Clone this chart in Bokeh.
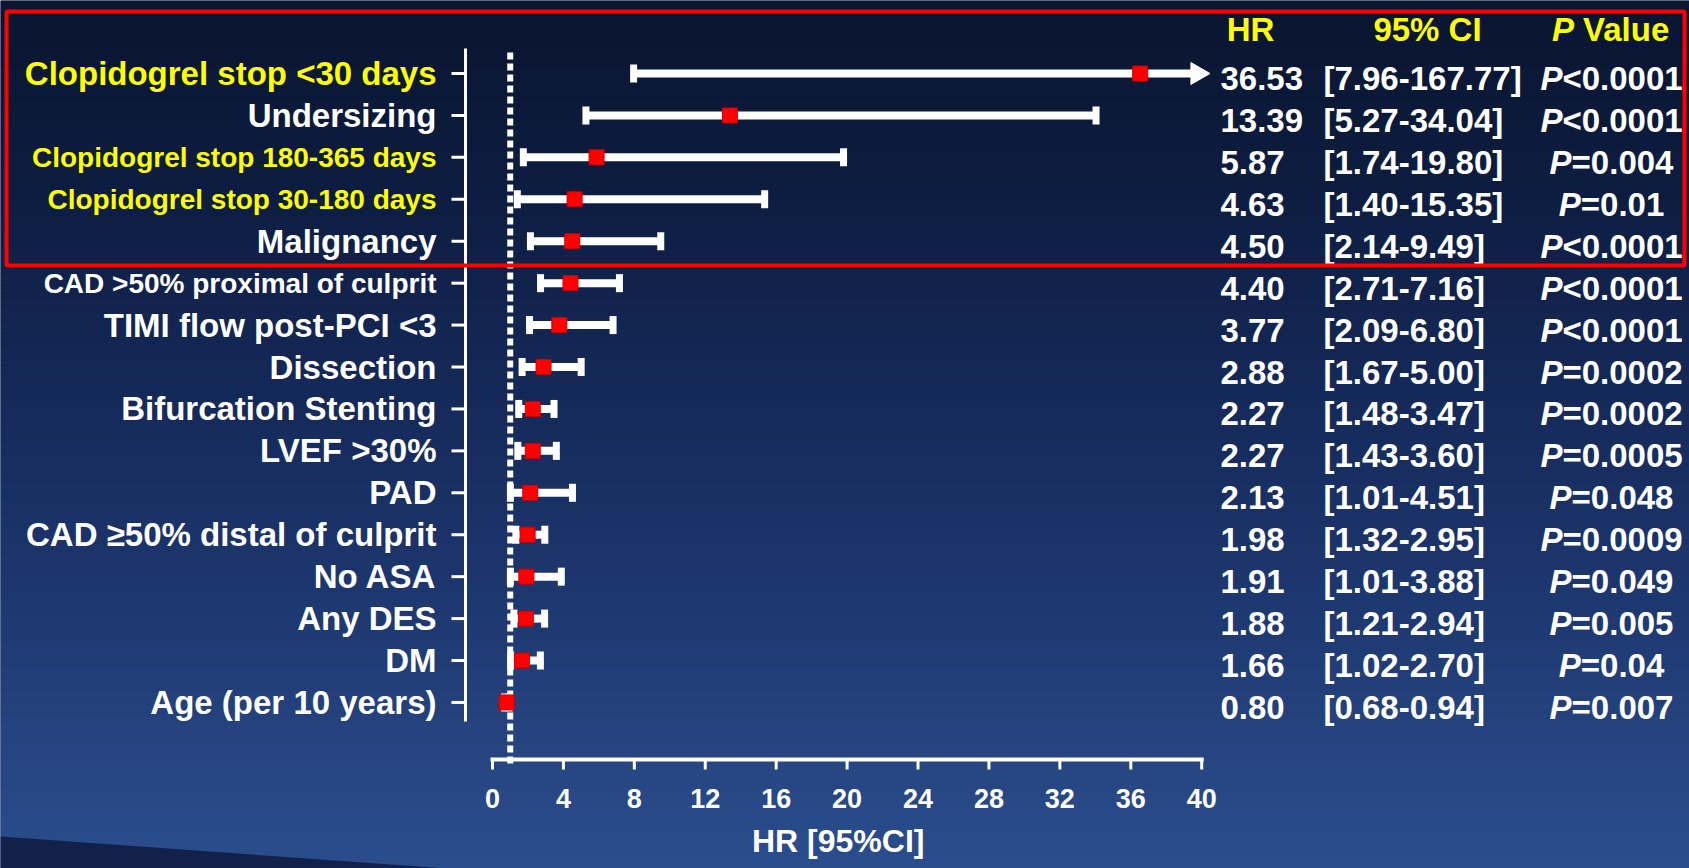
import numpy as np
from bokeh.plotting import figure
from bokeh.models import Range1d, ColumnDataSource
from bokeh.core.properties import value
from bokeh.embed import file_html
from bokeh.resources import INLINE

# ---------------- data (top row first) ----------------
labels = [
    "Clopidogrel stop <30 days",
    "Undersizing",
    "Clopidogrel stop 180-365 days",
    "Clopidogrel stop 30-180 days",
    "Malignancy",
    "CAD >50% proximal of culprit",
    "TIMI flow post-PCI <3",
    "Dissection",
    "Bifurcation Stenting",
    "LVEF >30%",
    "PAD",
    "CAD \u226550% distal of culprit",
    "No ASA",
    "Any DES",
    "DM",
    "Age (per 10 years)",
]
hr = [36.53, 13.39, 5.87, 4.63, 4.50, 4.40, 3.77, 2.88, 2.27, 2.27, 2.13, 1.98, 1.91, 1.88, 1.66, 0.80]
ci_lo = [7.96, 5.27, 1.74, 1.40, 2.14, 2.71, 2.09, 1.67, 1.48, 1.43, 1.01, 1.32, 1.01, 1.21, 1.02, 0.68]
ci_hi = [167.77, 34.04, 19.80, 15.35, 9.49, 7.16, 6.80, 5.00, 3.47, 3.60, 4.51, 2.95, 3.88, 2.94, 2.70, 0.94]
p_values = ["P<0.0001", "P<0.0001", "P=0.004", "P=0.01", "P<0.0001", "P<0.0001", "P<0.0001",
            "P=0.0002", "P=0.0002", "P=0.0005", "P=0.048", "P=0.0009", "P=0.049", "P=0.005",
            "P=0.04", "P=0.007"]
clopidogrel_rows = [0, 2, 3]          # labels shown in yellow
highlighted_rows = [0, 1, 2, 3, 4]    # rows inside the red box
x_ticks = [0, 4, 8, 12, 16, 20, 24, 28, 32, 36, 40]
x_title = "HR [95%CI]"
col_headers = ["HR", "95% CI", "Value"]
null_hr = 1

# ---------------- style / layout ----------------
W, H = 1689, 868
PX0, PXU = 492.0, 17.73      # pixel of HR=0, pixels per HR unit
PY0, PYU = 73.0, 41.93       # pixel of first row, pixels per row
AXIS_MAX = x_ticks[-1]
YELLOW = "#ffff00"
FONT = value("Liberation Sans")
small_label_rows = [2, 3, 5]
FS = 33
FS_TXT = "%dpx" % FS

def px2x(px):
    return (px - PX0) / PXU

def py2y(py):
    return (py - PY0) / PYU

CHAR_W = {c: 0.556 for c in "0123456789"}
CHAR_W.update({".": 0.278, "<": 0.584, "=": 0.584, " ": 0.278, "V": 0.667,
               "a": 0.556, "l": 0.278, "u": 0.611, "e": 0.556, "P": 0.667})

def text_w(s, fs):
    return sum(CHAR_W.get(c, 0.6) for c in s) * fs

p = figure(width=W, height=H, x_range=Range1d(px2x(0), px2x(W)),
           y_range=Range1d(py2y(H), py2y(0)), output_backend="svg",
           toolbar_location=None, min_border=0, x_axis_location=None,
           y_axis_location=None)
p.grid.visible = False
p.outline_line_color = None
p.background_fill_color = "#0a1530"
p.border_fill_color = "#0a1530"

# ---------------- background gradient ----------------
stops_px = [0, 200, 400, 600, 760, 868]
stops_rgb = [(10, 21, 48), (14, 30, 66), (22, 42, 90), (30, 56, 112), (39, 70, 130), (43, 78, 142)]
band = 4
tops = np.arange(0, H, band)
cols = []
for t in tops:
    c = [int(np.interp(t + band / 2, stops_px, [s[k] for s in stops_rgb])) for k in range(3)]
    cols.append("#%02x%02x%02x" % tuple(c))
p.quad(left=px2x(0), right=px2x(W), top=py2y(tops), bottom=py2y(tops + band + 1),
       fill_color=cols, line_color=None)
p.patch(x=[px2x(0), px2x(460), px2x(0)], y=[py2y(836), py2y(869), py2y(869)],
        fill_color="#12204a", line_color=None)

n = len(labels)
rows = np.arange(n)

# ---------------- axes ----------------
# left category axis
p.segment(x0=px2x(465), y0=py2y(48), x1=px2x(465), y1=py2y(721), line_color="white", line_width=3)
p.segment(x0=px2x(451), y0=rows, x1=px2x(465), y1=rows, line_color="white", line_width=3)
# x axis
ax_y = py2y(759)
p.segment(x0=x_ticks[0], y0=ax_y, x1=AXIS_MAX, y1=ax_y, line_color="white", line_width=4,
          line_cap="square")
p.segment(x0=x_ticks, y0=ax_y, x1=x_ticks, y1=py2y(769), line_color="white", line_width=3)
p.text(x=x_ticks, y=py2y(798), text=[str(t) for t in x_ticks], text_align="center",
       text_baseline="middle", text_color="white", text_font=FONT, text_font_style="bold",
       text_font_size="27px")
p.text(x=[(x_ticks[0] + AXIS_MAX) / 2 - 0.5], y=[py2y(840)], text=[x_title], text_align="center",
       text_baseline="middle", text_color="white", text_font=FONT, text_font_style="bold",
       text_font_size="32px")

# null line
p.segment(x0=null_hr, y0=py2y(52), x1=null_hr, y1=py2y(767), line_color="white", line_width=6,
          line_dash="7 4")

# ---------------- error bars ----------------
hi_clip = [min(h, AXIS_MAX - 0.4) for h in ci_hi]
p.segment(x0=ci_lo, y0=rows, x1=hi_clip, y1=rows, line_color="white", line_width=8)
p.rect(x=ci_lo, y=rows, width=7, height=18, width_units="screen", height_units="screen",
       fill_color="white", line_color=None)
capped = [i for i in range(n) if ci_hi[i] <= AXIS_MAX]
p.rect(x=[ci_hi[i] for i in capped], y=[rows[i] for i in capped], width=7, height=18,
       width_units="screen", height_units="screen", fill_color="white", line_color=None)
arrows = [i for i in range(n) if ci_hi[i] > AXIS_MAX]
p.scatter(x=[AXIS_MAX - 0.25] * len(arrows), y=[rows[i] for i in arrows], marker="triangle",
          size=22, angle=-np.pi / 2, fill_color="white", line_color="white")
p.scatter(x=hr, y=rows, marker="square", size=15, fill_color="#ff0000", line_color="#cc0000")

# ---------------- labels ----------------
lab_src = ColumnDataSource(dict(
    x=[px2x(436)] * n, y=rows, t=labels,
    c=[YELLOW if i in clopidogrel_rows else "white" for i in range(n)],
    fs=["28px" if i in small_label_rows else "33px" for i in range(n)],
))
p.text(x="x", y="y", text="t", source=lab_src, text_align="right", text_baseline="middle",
       text_color="c", text_font=FONT, text_font_style="bold", text_font_size="fs")

# ---------------- right columns ----------------
ty = rows + 5 / PYU
p.text(x=[px2x(1220)] * n, y=ty, text=["%.2f" % v for v in hr], text_align="left",
       text_baseline="middle", text_color="white", text_font=FONT, text_font_style="bold",
       text_font_size=FS_TXT)
p.text(x=[px2x(1323)] * n, y=ty, text=["[%.2f-%.2f]" % (a, b) for a, b in zip(ci_lo, ci_hi)],
       text_align="left", text_baseline="middle", text_color="white", text_font=FONT,
       text_font_style="bold", text_font_size=FS_TXT)
PC = 1611
p_left = [PC - (text_w(s[0], FS) + text_w(s[1:], FS)) / 2 for s in p_values]
p.text(x=[px2x(l) for l in p_left], y=ty, text=[s[0] for s in p_values], text_align="left",
       text_baseline="middle", text_color="white", text_font=FONT,
       text_font_style="bold italic", text_font_size=FS_TXT)
p.text(x=[px2x(l + text_w(s[0], FS)) for l, s in zip(p_left, p_values)], y=ty,
       text=[s[1:] for s in p_values], text_align="left", text_baseline="middle",
       text_color="white", text_font=FONT, text_font_style="bold", text_font_size=FS_TXT)

# headers
hy = py2y(29)
p.text(x=[px2x(1250), px2x(1427)], y=[hy, hy], text=col_headers[:2], text_align="center",
       text_baseline="middle", text_color=YELLOW, text_font=FONT, text_font_style="bold",
       text_font_size=FS_TXT)
pv_w = text_w("P", FS) + text_w(" " + col_headers[2], FS)
pv_left = PC - pv_w / 2
p.text(x=[px2x(pv_left)], y=[hy], text=["P"], text_align="left", text_baseline="middle",
       text_color=YELLOW, text_font=FONT, text_font_style="bold italic", text_font_size=FS_TXT)
p.text(x=[px2x(pv_left + text_w("P", FS) + text_w(" ", FS))], y=[hy], text=[col_headers[2]],
       text_align="left", text_baseline="middle", text_color=YELLOW, text_font=FONT,
       text_font_style="bold", text_font_size=FS_TXT)

# highlight box
p.quad(left=px2x(6), right=px2x(1684), top=py2y(11), bottom=py2y(265),
       fill_color=None, line_color="#ff0000", line_width=4)

open("out.html", "w").write(file_html(p, INLINE))
